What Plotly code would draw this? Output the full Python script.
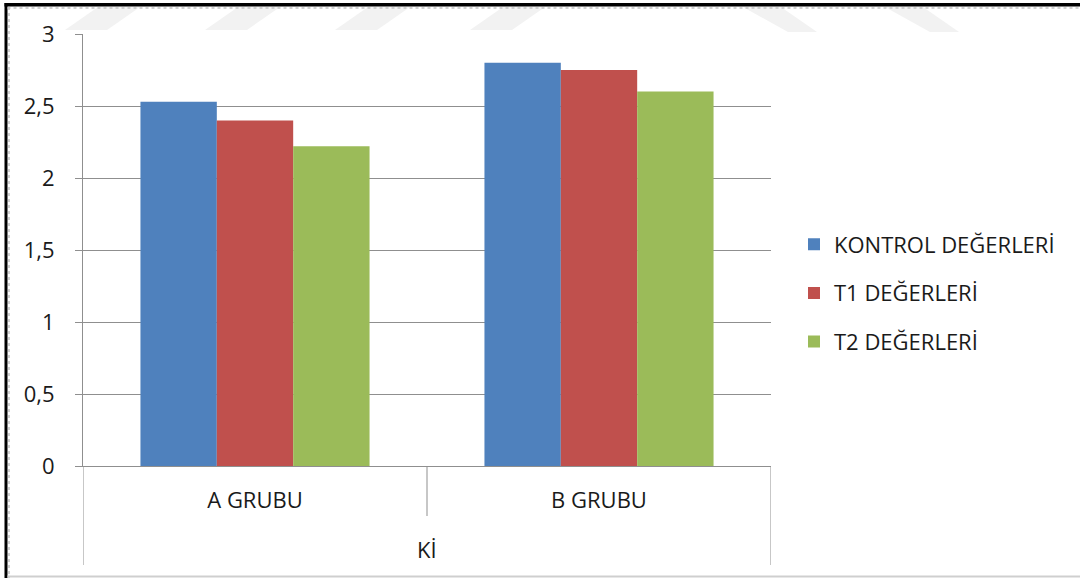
import plotly.graph_objects as go

# Data
categories = ["A GRUBU", "B GRUBU"]
outer_label = "Kİ"
series_names = ["KONTROL DEĞERLERİ", "T1 DEĞERLERİ", "T2 DEĞERLERİ"]
kontrol = [2.53, 2.80]
t1 = [2.40, 2.75]
t2 = [2.22, 2.60]
y_ticks = [0, 0.5, 1, 1.5, 2, 2.5, 3]

colors = ["#4F81BD", "#C0504D", "#9BBB59"]
FONT = "Open Sans"
FS = 22
TEXT = "#1a1a1a"
GRID = "#8f8f8f"

# Figure / plot-area geometry in pixels
FIG_W, FIG_H = 1080, 578
L, R, T, B = 83, 309, 34, 112
PW = FIG_W - L - R
PH = FIG_H - T - B


def px(x):
    return (x - L) / PW


def py(y):
    return (FIG_H - B - y) / PH


fig = go.Figure()
for i, (name, vals) in enumerate(zip(series_names, [kontrol, t1, t2])):
    fig.add_trace(go.Bar(
        x=categories, y=vals, name=name,
        marker=dict(color=colors[i], line=dict(width=0)),
        legendgroup=f"g{i}",
    ))

shapes = []
# category dividers of the two-level axis
for xv, depth in [(-0.5, 565), (0.5, 516), (1.5, 565)]:
    shapes.append(dict(type="line", xref="x", yref="paper", x0=xv, x1=xv,
                       y0=0, y1=py(depth), line=dict(color=GRID, width=1)))

# faint diagonal watermark bands along the top edge
for b in [65, 205, 335, 470]:
    x0, y0, y1 = b, 30, 7
    path = (f"M{px(x0)},{py(y0)} L{px(x0 + 42)},{py(y0)} "
            f"L{px(x0 + 75)},{py(y1)} L{px(x0 + 33)},{py(y1)} Z")
    shapes.append(dict(type="path", xref="paper", yref="paper", path=path,
                       fillcolor="#f2f2f2", line=dict(width=0), layer="below"))
for b in [743, 885]:
    x0, y0, y1 = b, 7, 32
    path = (f"M{px(x0)},{py(y0)} L{px(x0 + 38)},{py(y0)} "
            f"L{px(x0 + 74)},{py(y1)} L{px(x0 + 45)},{py(y1)} Z")
    shapes.append(dict(type="path", xref="paper", yref="paper", path=path,
                       fillcolor="#f2f2f2", line=dict(width=0), layer="below"))

# outer frame: heavy black top/left edge, thin grey inner rule and bottom rule
shapes += [
    dict(type="rect", xref="paper", yref="paper", x0=px(4.5), x1=px(FIG_W + 2),
         y0=py(6.5), y1=py(3), fillcolor="black", line=dict(width=0)),
    dict(type="rect", xref="paper", yref="paper", x0=px(4.5), x1=px(7.5),
         y0=py(FIG_H + 2), y1=py(3), fillcolor="black", line=dict(width=0)),
    dict(type="line", xref="paper", yref="paper", x0=px(7.5), x1=px(FIG_W),
         y0=py(8), y1=py(8), line=dict(color="#c4c4c4", width=1.5, dash="dot")),
    dict(type="line", xref="paper", yref="paper", x0=px(9), x1=px(9),
         y0=py(7), y1=py(FIG_H), line=dict(color="#c4c4c4", width=1.5, dash="dot")),
    dict(type="line", xref="paper", yref="paper", x0=px(7.5), x1=px(FIG_W),
         y0=py(576.5), y1=py(576.5), line=dict(color="#cfcfcf", width=2)),
]

fig.update_layout(
    width=FIG_W, height=FIG_H,
    margin=dict(l=L, r=R, t=T, b=B, pad=0),
    paper_bgcolor="white", plot_bgcolor="white",
    separators=", ",
    font=dict(family=FONT, size=FS, color=TEXT),
    barmode="group", bargap=0.334, bargroupgap=0,
    showlegend=True,
    legend=dict(x=px(794), y=py(293), xanchor="left", yanchor="middle",
                font=dict(family=FONT, size=FS, color=TEXT),
                tracegroupgap=17, itemwidth=30, bgcolor="rgba(0,0,0,0)",
                traceorder="grouped"),
    shapes=shapes,
    annotations=[dict(text=outer_label, xref="x", yref="paper", x=0.5,
                      y=py(549), xanchor="center", yanchor="middle",
                      showarrow=False, font=dict(family=FONT, size=FS, color=TEXT))],
)

fig.update_xaxes(
    type="category", range=[-0.5, 1.5], showgrid=False,
    showline=True, linecolor=GRID, linewidth=1,
    ticks="", ticklabelstandoff=15,
    tickfont=dict(family=FONT, size=FS, color=TEXT),
    automargin=False,
)
fig.update_yaxes(
    range=[0, 3], tickvals=y_ticks, showgrid=True, gridcolor=GRID, gridwidth=1,
    showline=True, linecolor=GRID, linewidth=1,
    ticks="outside", ticklen=7, tickcolor=GRID, ticklabelstandoff=16,
    tickfont=dict(family=FONT, size=FS, color=TEXT),
    zeroline=False, automargin=False,
)

fig.write_html("out.html")
